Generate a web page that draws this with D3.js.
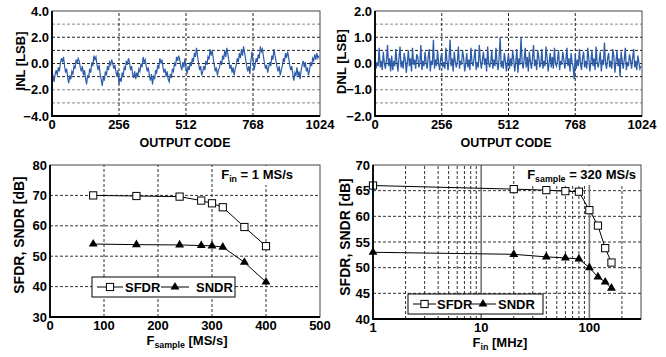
<!DOCTYPE html>
<html>
<head>
<meta charset="utf-8">
<script src="https://cdn.jsdelivr.net/npm/d3@7"></script>
<style>
  body { margin: 0; background: #fff; }
  svg { font-family: "Liberation Sans", Arial, sans-serif; font-weight: bold; }
</style>
</head>
<body>
<svg id="chart" width="666" height="357"></svg>
<script>
// INL / DNL, one value every 4 output codes (0 .. 1020)
const codeStep = 4;
const inlValues = [
  -0.6, -1.0, -1.4, -0.8, -0.5, -0.9, -0.3, -0.6, 0.0, 0.4, 0.1, 0.5, -0.2, -0.7, -0.4, -1.1,
  -1.5, -0.9, -1.2, -0.6, -0.8, -0.2, -0.4, 0.3, 0.0, 0.4, 0.2, -0.3, -0.6, -0.2, -0.9, -0.5,
  -1.1, -1.6, -0.9, -1.1, -0.4, -0.7, 0.1, -0.2, 0.6, 0.3, 0.5, -0.1, -0.5, -0.1, -0.8, -1.2,
  -1.7, -1.0, -1.3, -0.6, -0.9, -0.2, -0.5, 0.1, -0.1, 0.3, 0.0, -0.4, -0.1, -0.6, -1.0, -0.5,
  -1.6, -1.1, -1.4, -0.7, -0.9, -0.3, -0.5, 0.2, -0.1, 0.4, 0.1, -0.5, -0.2, -0.8, -1.1, -0.6,
  -1.2, -0.7, -1.0, -0.4, -0.6, 0.0, -0.3, 0.5, 0.1, 0.3, -0.2, -0.6, -0.3, -0.9, -1.3, -0.8,
  -1.6, -1.0, -1.2, -0.5, -0.7, -0.1, -0.4, 0.4, 0.0, 0.3, -0.3, -0.7, -0.4, -1.0, -0.6, -1.2,
  -1.4, -0.8, -1.1, -0.4, -0.6, 0.0, -0.2, 0.5, 0.2, 0.6, 0.3, -0.2, -0.5, 0.1, -0.3, 0.4,
  -0.4, -0.8, -0.2, -0.5, 0.1, -0.2, 0.4, 0.1, 0.8, 0.5, 1.2, 0.6, 0.0, -0.5, -0.2, -0.9,
  -0.6, -0.2, -0.5, 0.2, -0.1, 0.5, 0.3, 1.1, 0.6, 1.0, 0.4, -0.1, -0.6, -0.3, -0.9, -0.5,
  -0.3, 0.2, -0.1, 0.6, 0.3, 1.0, 0.5, 1.2, 0.7, 0.2, -0.4, -0.1, -0.7, -0.3, -0.9, -0.4,
  -0.1, 0.4, 0.1, 0.8, 0.4, 1.1, 0.6, 1.3, 0.8, 0.3, -0.2, -0.6, -0.2, -0.8, 0.2, 0.9,
  0.3, -0.5, -0.1, 0.4, 0.1, 0.7, 0.4, 1.3, 0.9, 1.1, 0.5, 0.0, -0.4, -0.1, -0.7, -0.3,
  0.1, -0.2, 0.6, 0.3, 1.1, 0.6, 0.2, -0.3, -0.6, -0.2, -0.9, -0.5, -0.2, 0.4, 0.1, 0.8,
  0.4, 0.9, 0.5, -0.1, -0.5, -0.2, -0.8, -1.3, -0.7, -0.9, -0.3, -1.0, -0.6, -1.2, -0.5, -0.1,
  0.2, -0.3, 0.1, -0.6, -0.3, -0.9, -0.5, 0.1, -0.2, 0.4, 0.2, 0.7, 0.3, 0.8, 0.4, 0.6
];
const dnlValues = [
  0.1, -0.2, 0.05, -0.1, 0.6, -0.15, 0.1, -0.25, 0.45, 0.0, -0.2, 0.15, 0.7, -0.1, 0.2, -0.3,
  0.3, -0.25, 0.1, -0.1, 0.55, 0.05, -0.3, 0.2, 0.65, -0.15, 0.1, -0.2, 0.4, 0.15, -0.35, 0.05,
  0.5, -0.1, 0.2, -0.3, 0.6, -0.05, 0.15, -0.2, 0.35, 0.25, -0.15, 0.0, 0.7, -0.25, 0.1, -0.1,
  0.45, 0.05, -0.2, 0.25, 0.55, -0.3, 0.1, -0.05, 0.9, -0.2, 0.15, -0.1, 0.5, 0.0, -0.25, 0.2,
  0.4, -0.15, 0.05, -0.2, 0.6, 0.1, -0.25, 0.15, 0.9, -0.1, 0.2, -0.3, 0.45, 0.05, -0.15, 0.1,
  0.65, -0.2, 0.1, -0.05, 0.5, 0.2, -0.3, 0.0, 0.4, -0.15, 0.15, -0.25, 0.6, 0.05, -0.1, 0.2,
  0.55, -0.25, 0.05, -0.15, 0.7, 0.1, -0.2, 0.15, 0.45, -0.05, 0.2, -0.3, 0.65, 0.0, -0.15, 0.1,
  0.5, -0.2, 0.15, -0.1, 0.6, 0.05, -0.25, 0.2, 1.0, -0.15, 0.1, -0.2, 0.4, 0.1, -0.3, 0.05,
  0.35, -0.2, 0.2, -0.1, 0.5, 0.15, -0.3, 0.05, 0.55, -0.35, 0.2, -0.05, 1.0, 0.1, -0.2, 0.15,
  0.6, -0.15, 0.25, -0.3, 0.45, 0.05, -0.2, 0.2, 0.7, -0.1, 0.15, -0.25, 0.5, 0.25, -0.15, 0.0,
  0.55, -0.2, 0.1, -0.1, 0.65, 0.2, -0.3, 0.05, 0.4, -0.15, 0.25, -0.2, 0.6, 0.0, -0.1, 0.15,
  0.5, -0.25, 0.1, -0.05, 0.45, 0.15, -0.2, 0.1, 0.6, -0.1, 0.2, -0.3, 0.4, 0.05, -0.15, -0.6,
  0.35, -0.2, 0.15, -0.1, 0.55, 0.0, -0.25, 0.2, 0.45, -0.15, 0.1, -0.2, 0.6, 0.2, -0.3, 0.05,
  0.5, -0.1, 0.2, -0.25, 0.65, 0.05, -0.15, 0.1, 0.45, -0.3, 0.15, -0.05, 0.8, 0.0, -0.2, 0.2,
  0.4, -0.15, 0.1, -0.2, 0.55, 0.25, -0.35, 0.05, 0.5, -0.1, 0.2, -0.5, 0.45, 0.1, -0.2, 0.15,
  0.6, -0.25, 0.05, -0.1, 0.35, 0.15, -0.2, 0.2, 0.55, -0.15, 0.1, -0.25, 0.3, 0.05, -0.2, -0.1
];
const codeTicks = [0, 256, 512, 768, 1024];

// SFDR / SNDR vs sample rate (Fin = 1 MS/s)
const fsample = [80, 160, 240, 280, 300, 320, 360, 400];
const sfdrVsFs = [70.0, 69.8, 69.6, 68.3, 67.4, 66.1, 59.6, 53.3];
const sndrVsFs = [54.0, 53.8, 53.7, 53.5, 53.4, 53.0, 48.0, 41.5];

// SFDR / SNDR vs input frequency (Fsample = 320 MS/s)
const fin = [1, 20, 40, 60, 80, 100, 120, 140, 160];
const sfdrVsFin = [66.0, 65.3, 65.1, 64.9, 64.8, 61.2, 58.2, 53.8, 51.0];
const sndrVsFin = [53.0, 52.6, 52.1, 51.9, 51.7, 50.0, 48.2, 47.2, 46.0];

const svg = d3.select("#chart");
const blue = "#2d5ca9";

function hGrid(g, x, y, values, color) {
  g.selectAll(null).data(values).enter().append("line")
    .attr("x1", x.range()[0]).attr("x2", x.range()[1])
    .attr("y1", d => y(d)).attr("y2", d => y(d))
    .attr("stroke", color).attr("stroke-width", 1).attr("stroke-dasharray", "3,2");
}
function vGrid(g, x, y, values, color, dash, w) {
  g.selectAll(null).data(values).enter().append("line")
    .attr("x1", d => x(d)).attr("x2", d => x(d))
    .attr("y1", y.range()[0]).attr("y2", y.range()[1])
    .attr("stroke", color).attr("stroke-width", w || 1).attr("stroke-dasharray", dash);
}
function frame(g, x, y) {
  const [x0, x1] = x.range(), [y0, y1] = y.range();
  g.append("rect").attr("x", x0).attr("y", y1).attr("width", x1 - x0).attr("height", y0 - y1)
    .attr("fill", "none").attr("stroke", "#444").attr("stroke-width", 1);
  g.append("path").attr("d", `M${x0},${y1}V${y0}H${x1}`)
    .attr("fill", "none").attr("stroke", "#000").attr("stroke-width", 1.8);
}
function yLabels(g, x, y, values, fmt) {
  g.selectAll(null).data(values).enter().append("text")
    .attr("x", x.range()[0] - 3).attr("y", d => y(d) + 4.6)
    .attr("text-anchor", "end").attr("font-size", 13).text(fmt);
}
function xLabels(g, x, values, yPos, fmt) {
  g.selectAll(null).data(values).enter().append("text")
    .attr("x", d => x(d)).attr("y", yPos)
    .attr("text-anchor", "middle").attr("font-size", 13).text(fmt);
}
function yTitle(g, cx, cy, txt, size) {
  g.append("text").attr("transform", `translate(${cx},${cy})rotate(-90)`)
    .attr("text-anchor", "middle").attr("font-size", size).text(txt);
}
// text with a subscript part; pieces are laid out one after another by measured width
function subText(g, xPos, yPos, anchor, size, parts, bg) {
  const box = g.append("g");
  const back = bg ? box.append("rect").attr("fill", "#fff") : null;
  let cx = 0;
  parts.forEach(p => {
    const t = box.append("text").attr("x", cx).attr("y", p.sub ? 3 : 0)
      .attr("font-size", p.sub ? size * 0.68 : size)
      .style("white-space", "pre").text(p.t);
    cx += t.node().getComputedTextLength();
  });
  if (back) back.attr("x", -3).attr("y", -size).attr("width", cx + 6).attr("height", size + 6);
  const shift = anchor === "end" ? cx : anchor === "middle" ? cx / 2 : 0;
  box.attr("transform", `translate(${xPos - shift},${yPos})`);
}

// ---------- INL ----------
{
  const g = svg.append("g");
  const x = d3.scaleLinear().domain([0, 1024]).range([52, 320]);
  const y = d3.scaleLinear().domain([-4, 4]).range([116, 11]);
  hGrid(g, x, y, [3, -2, -3], "#888");
  hGrid(g, x, y, [2, 1, 0, -1], "#222");
  vGrid(g, x, y, [256, 512, 768], "#222", "3,2");
  const line = d3.line().x((d, i) => x(i * codeStep)).y(d => y(d));
  g.append("path").datum(inlValues).attr("d", line)
    .attr("fill", "none").attr("stroke", blue).attr("stroke-width", 1.2);
  frame(g, x, y);
  yLabels(g, x, y, [4, 2, 0, -2, -4], d3.format(".1f"));
  xLabels(g, x, codeTicks, 129, d => d);
  g.append("text").attr("x", 185).attr("y", 146.5).attr("text-anchor", "middle")
    .attr("font-size", 12.5).text("OUTPUT CODE");
  yTitle(g, 24.5, 61, "INL [LSB]", 13);
}

// ---------- DNL ----------
{
  const g = svg.append("g");
  const x = d3.scaleLinear().domain([0, 1024]).range([375, 642]);
  const y = d3.scaleLinear().domain([-2, 2]).range([116, 11]);
  hGrid(g, x, y, [1.5, -1, -1.5], "#888");
  hGrid(g, x, y, [1, 0.5, 0, -0.5], "#222");
  vGrid(g, x, y, [256, 512, 768], "#222", "3,2");
  const line = d3.line().x((d, i) => x(i * codeStep)).y(d => y(d));
  g.append("path").datum(dnlValues).attr("d", line)
    .attr("fill", "none").attr("stroke", blue).attr("stroke-width", 1.3);
  frame(g, x, y);
  yLabels(g, x, y, [2, 1, 0, -1, -2], d3.format(".1f"));
  xLabels(g, x, codeTicks, 129, d => d);
  g.append("text").attr("x", 506).attr("y", 146.5).attr("text-anchor", "middle")
    .attr("font-size", 12.5).text("OUTPUT CODE");
  yTitle(g, 346, 61.5, "DNL [LSB]", 13);
}

function series(g, x, y, xs, ys, kind) {
  const pts = xs.map((v, i) => [v, ys[i]]);
  g.append("path").datum(pts).attr("d", d3.line().x(d => x(d[0])).y(d => y(d[1])))
    .attr("fill", "none").attr("stroke", "#000").attr("stroke-width", 1);
  marker(g, pts.map(d => [x(d[0]), y(d[1])]), kind);
}
function marker(g, pts, kind) {
  if (kind === "square") {
    g.selectAll(null).data(pts).enter().append("rect")
      .attr("x", d => d[0] - 3.6).attr("y", d => d[1] - 3.6)
      .attr("width", 7.2).attr("height", 7.2)
      .attr("fill", "#fff").attr("stroke", "#000").attr("stroke-width", 1);
  } else {
    const tri = d3.symbol().type(d3.symbolTriangle).size(34);
    g.selectAll(null).data(pts).enter().append("path")
      .attr("d", tri).attr("transform", d => `translate(${d[0]},${d[1]})`)
      .attr("fill", "#000");
  }
}
function legend(g, bx, by, bw, bh, items) {
  g.append("rect").attr("x", bx).attr("y", by).attr("width", bw).attr("height", bh)
    .attr("fill", "#fff").attr("stroke", "#000").attr("stroke-width", 1);
  const cy = by + bh / 2;
  items.forEach(it => {
    g.append("line").attr("x1", it.l0).attr("x2", it.l1).attr("y1", cy).attr("y2", cy)
      .attr("stroke", "#000").attr("stroke-width", 1);
    marker(g, [[(it.l0 + it.l1) / 2, cy]], it.kind);
    g.append("text").attr("x", it.tx).attr("y", cy + 4.6).attr("font-size", 13).text(it.label);
  });
}

// ---------- SFDR/SNDR vs Fsample ----------
{
  const g = svg.append("g");
  const x = d3.scaleLinear().domain([0, 500]).range([50, 320]);
  const y = d3.scaleLinear().domain([30, 80]).range([317, 165]);
  hGrid(g, x, y, [40, 50, 60, 70], "#333");
  vGrid(g, x, y, [100, 200, 300, 400], "#333", "3,2");
  series(g, x, y, fsample, sfdrVsFs, "square");
  series(g, x, y, fsample, sndrVsFs, "triangle");
  frame(g, x, y);
  yLabels(g, x, y, d3.range(30, 81, 10), d => d);
  xLabels(g, x, d3.range(0, 501, 100), 330, d => d);
  subText(g, 187, 345, "middle", 13, [{t: "F"}, {t: "sample", sub: true}, {t: " [MS/s]"}]);
  yTitle(g, 23.5, 235, "SFDR, SNDR [dB]", 14);
  subText(g, 293, 179, "end", 13, [{t: "F"}, {t: "in", sub: true}, {t: " = 1 MS/s"}], true);
  legend(g, 92, 277, 143, 20, [
    {l0: 97, l1: 123, kind: "square", tx: 125, label: "SFDR"},
    {l0: 161, l1: 189, kind: "triangle", tx: 196, label: "SNDR"}
  ]);
}

// ---------- SFDR/SNDR vs Fin ----------
{
  const g = svg.append("g");
  const x = d3.scaleLog().domain([1, 300]).range([373, 641]);
  const y = d3.scaleLinear().domain([40, 70]).range([319, 165]);
  hGrid(g, x, y, [45, 50, 55, 60, 65], "#333");
  vGrid(g, x, y, [2, 3, 4, 5, 6, 7, 8, 9, 20, 30, 40, 50, 60, 70, 80, 90, 200], "#333", "3,2");
  vGrid(g, x, y, [10, 100], "#777", null, 1.6);
  series(g, x, y, fin, sfdrVsFin, "square");
  series(g, x, y, fin, sndrVsFin, "triangle");
  frame(g, x, y);
  yLabels(g, x, y, d3.range(40, 71, 5), d => d);
  xLabels(g, x, [1, 10, 100], 331.5, d => d);
  subText(g, 500, 347, "middle", 13, [{t: "F"}, {t: "in", sub: true}, {t: " [MHz]"}]);
  yTitle(g, 349.5, 237, "SFDR, SNDR [dB]", 14);
  subText(g, 636, 179, "end", 13, [{t: "F"}, {t: "sample", sub: true}, {t: " = 320 MS/s"}], true);
  legend(g, 408, 294, 135, 20, [
    {l0: 413, l1: 436, kind: "square", tx: 437, label: "SFDR"},
    {l0: 470, l1: 496, kind: "triangle", tx: 498, label: "SNDR"}
  ]);
}
</script>
</body>
</html>
